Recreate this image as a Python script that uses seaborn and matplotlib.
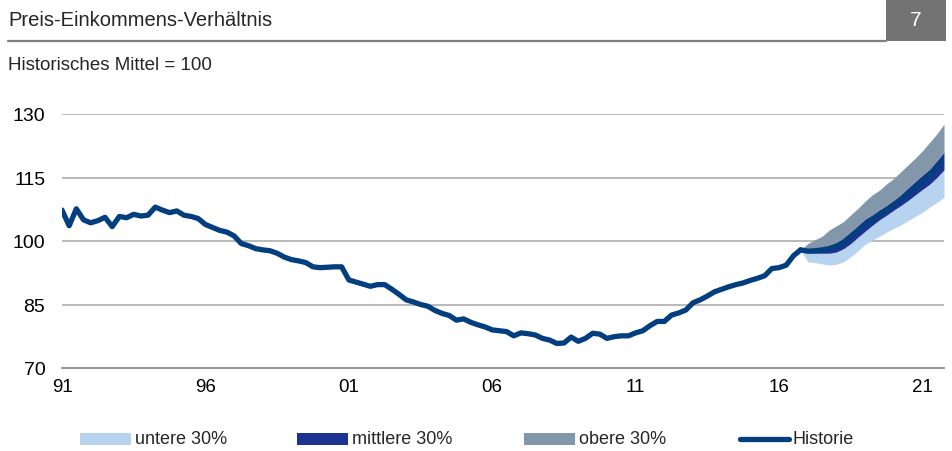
import matplotlib
matplotlib.use("Agg")
import matplotlib.pyplot as plt
from matplotlib.patches import Rectangle
from matplotlib.lines import Line2D
import numpy as np
import pandas as pd
import seaborn as sns

# Historie, quartalsweise ab 1991 Q1 (Index, historisches Mittel = 100)
historie = [107.3, 103.6, 107.6, 105.0, 104.3, 104.8, 105.6, 103.4, 105.8, 105.5,
            106.3, 105.9, 106.1, 108.0, 107.3, 106.7, 107.1, 106.1, 105.8, 105.3,
            103.9, 103.2, 102.5, 102.1, 101.2, 99.4, 98.9, 98.2, 97.9, 97.7,
            97.1, 96.2, 95.6, 95.3, 94.9, 93.9, 93.7, 93.8, 93.9, 93.9,
            90.8, 90.3, 89.8, 89.3, 89.7, 89.7, 88.6, 87.4, 86.1, 85.6,
            85.0, 84.6, 83.6, 82.9, 82.4, 81.3, 81.6, 80.8, 80.2, 79.7,
            79.0, 78.8, 78.6, 77.6, 78.3, 78.1, 77.8, 77.0, 76.6, 75.8,
            75.9, 77.3, 76.3, 77.0, 78.2, 78.0, 77.0, 77.4, 77.6, 77.6,
            78.3, 78.8, 80.0, 81.0, 81.0, 82.5, 83.0, 83.7, 85.4, 86.1,
            87.0, 88.0, 88.6, 89.2, 89.7, 90.1, 90.7, 91.2, 91.8, 93.5,
            93.7, 94.3, 96.5, 97.9]

# Prognose ab 2016 Q4 bis 2021 Q4
fan_unten = [97.9, 95.1, 94.9, 94.6, 94.3, 94.5, 95.1, 96.3, 97.7, 99.2, 100.2,
             101.1, 102.1, 103.0, 103.8, 104.8, 105.8, 106.8, 108.0, 109.1, 110.3]
fan_mitte_unten = [97.9, 97.2, 97.1, 97.1, 97.1, 97.4, 98.2, 99.4, 100.9, 102.3, 103.7,
                   105.0, 106.1, 107.3, 108.4, 109.6, 110.9, 112.2, 113.4, 115.0, 116.8]
fan_median = [97.9, 97.6, 97.7, 97.9, 98.2, 98.8, 99.7, 101.1, 102.3, 103.8, 105.0,
              106.3, 107.4, 108.6, 109.8, 111.1, 112.6, 114.0, 115.6, 117.3, 119.1]
fan_mitte_oben = [97.9, 97.8, 98.1, 98.4, 99.0, 99.6, 100.6, 102.2, 103.7, 105.2, 106.2,
                  107.4, 108.4, 109.6, 111.0, 112.6, 114.1, 115.6, 117.0, 119.0, 121.0]
fan_oben = [97.9, 99.4, 100.3, 101.1, 102.6, 103.6, 104.6, 106.2, 107.7, 109.4, 110.9,
            112.0, 113.5, 114.8, 116.4, 118.0, 119.6, 121.3, 123.3, 125.3, 127.6]

tick_jahre = [1991, 1996, 2001, 2006, 2011, 2016, 2021]
tick_labels = ["91", "96", "01", "06", "11", "16", "21"]
y_ticks = [70, 85, 100, 115, 130]

farbe_unten = "#b7d3f0"
farbe_mitte = "#1c3392"
farbe_oben = "#8397ab"
farbe_hist = "#033f7f"

sns.set_theme(style="white")
plt.rcParams["font.family"] = ["Liberation Sans", "DejaVu Sans"]

t_hist = 1991 + np.arange(len(historie)) / 4
t_fan = t_hist[-1] + np.arange(len(fan_median)) / 4
df_hist = pd.DataFrame({"t": t_hist, "wert": historie})
df_fan = pd.DataFrame({"t": t_fan, "wert": fan_median})

fig = plt.figure(figsize=(9.52, 4.52), dpi=100)
W, H = 952, 452
ax = fig.add_axes([62 / W, 1 - 369 / H, (944 - 62) / W, (369 - 115) / H])

ax.fill_between(t_fan, fan_unten, fan_mitte_unten, color=farbe_unten, lw=0)
ax.fill_between(t_fan, fan_mitte_unten, fan_mitte_oben, color=farbe_mitte, lw=0)
ax.fill_between(t_fan, fan_mitte_oben, fan_oben, color=farbe_oben, lw=0)
sns.lineplot(data=df_hist, x="t", y="wert", ax=ax, color=farbe_hist, lw=3.8)
sns.lineplot(data=df_fan, x="t", y="wert", ax=ax, color=farbe_hist, lw=3.8)

ax.set_xlim(1991, 2021.75)
ax.set_ylim(70, 130)
ax.set_yticks(y_ticks)
ax.set_xticks(tick_jahre)
ax.set_xticklabels(tick_labels)
ax.set_xlabel("")
ax.set_ylabel("")
for v in y_ticks[1:]:
    ax.axhline(v, color="#a6a6a6", lw=1.1, zorder=0)
for s in ["top", "right", "left"]:
    ax.spines[s].set_visible(False)
ax.spines["bottom"].set_color("#7f7f7f")
ax.spines["bottom"].set_linewidth(1.2)
ax.tick_params(axis="both", length=0, colors="#000000")
ax.tick_params(axis="y", pad=12, labelsize=14)
ax.tick_params(axis="x", pad=7, labelsize=13.5)

# Kopfzeile
fig.text(8 / W, 1 - 20 / H, "Preis-Einkommens-Verhältnis", fontsize=14.5,
         va="center", ha="left")
fig.add_artist(Line2D([8 / W, 886 / W], [1 - 42 / H, 1 - 42 / H],
                      color="#808080", lw=1.6))
fig.add_artist(Rectangle((886 / W, 1 - 42 / H), 60 / W, 42 / H,
                         color="#737373", lw=0))
fig.text(916 / W, 1 - 21 / H, "7", color="white", fontsize=15,
         va="center", ha="center")
fig.text(8 / W, 1 - 66 / H, "Historisches Mittel = 100", fontsize=13.5,
         va="center", ha="left")

# Legende
ly = 1 - 440 / H
eintraege = [("untere 30%", farbe_unten, 80, "patch"),
             ("mittlere 30%", farbe_mitte, 297, "patch"),
             ("obere 30%", farbe_oben, 524, "patch"),
             ("Historie", farbe_hist, 738, "line")]
for text, farbe, x0, art in eintraege:
    if art == "patch":
        fig.add_artist(Rectangle((x0 / W, ly - 6 / H), 51 / W, 12 / H,
                                 color=farbe, lw=0))
    else:
        fig.add_artist(Line2D([(x0 + 2) / W, (x0 + 51) / W], [ly, ly],
                              color=farbe, lw=3.8, solid_capstyle="round"))
    fig.text((x0 + 55) / W, ly, text, fontsize=13, va="center", ha="left")

fig.savefig("out.png", dpi=100)
